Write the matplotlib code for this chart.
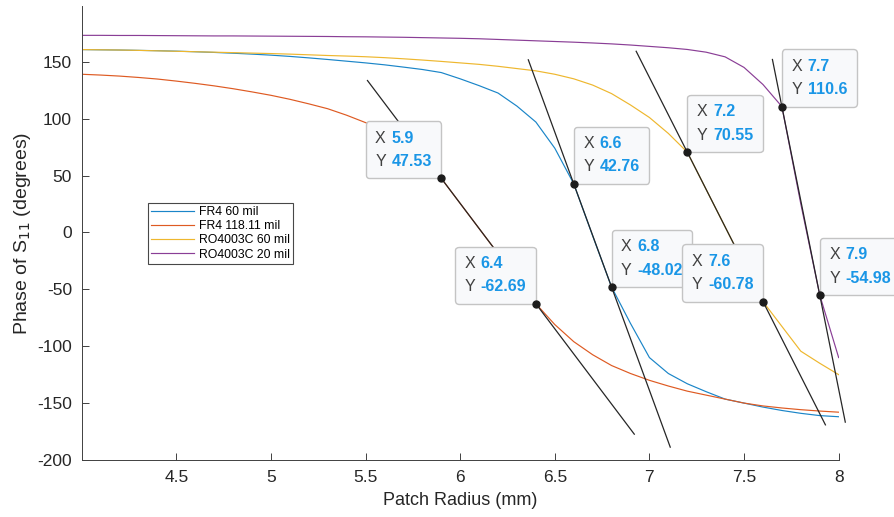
import numpy as np
import matplotlib.pyplot as plt
from matplotlib.offsetbox import TextArea, HPacker, VPacker, AnnotationBbox

plt.rcParams['font.family'] = ['Liberation Sans', 'DejaVu Sans']
plt.rcParams['axes.unicode_minus'] = False

# Patch radius sweep (mm)
radius = np.linspace(4.0, 8.0, 41)

fr4_60 = [160.7, 160.5, 160.3, 160.0, 159.7, 159.3, 158.8, 158.2, 157.5, 156.7,
          155.8, 154.7, 153.4, 152.0, 150.5, 149.0, 147.3, 145.3, 143.2, 140.5,
          135.0, 129.0, 122.5, 111.0, 97.0, 74.0, 42.76, -3.0, -48.02, -80.0,
          -110.0, -124.0, -133.0, -140.0, -146.5, -150.0, -153.5, -156.5, -159.0, -161.0,
          -162.0]
fr4_118 = [139.0, 138.3, 137.4, 136.2, 134.8, 133.0, 131.0, 128.8, 126.3, 123.5,
           120.5, 117.0, 113.0, 108.7, 103.0, 96.5, 88.5, 78.5, 65.0, 47.53,
           25.5, 3.4, -18.6, -40.6, -62.69, -81.0, -96.0, -107.5, -117.0, -124.0,
           -130.0, -135.0, -139.5, -143.0, -146.5, -150.0, -152.5, -154.3, -155.8, -157.0,
           -158.0]
ro_60 = [160.7, 160.5, 160.3, 160.0, 159.6, 159.2, 158.8, 158.4, 158.0, 157.6,
         157.2, 156.7, 156.1, 155.5, 155.0, 154.4, 153.6, 152.6, 151.5, 150.3,
         149.0, 147.7, 146.0, 144.0, 142.0, 139.0, 135.0, 129.5, 122.0, 112.0,
         101.0, 87.0, 70.55, 37.7, 4.9, -27.9, -60.78, -82.6, -104.4, -115.0,
         -125.0]
ro_20 = [173.2, 173.2, 173.1, 173.1, 173.0, 172.9, 172.8, 172.7, 172.7, 172.6,
         172.5, 172.4, 172.3, 172.2, 172.0, 171.9, 171.7, 171.5, 171.2, 170.9,
         170.6, 170.2, 169.6, 169.0, 168.4, 167.8, 167.2, 166.5, 165.7, 164.7,
         163.5, 162.3, 160.8, 158.4, 154.3, 145.0, 130.0, 110.6, 25.0, -54.98,
         -110.0]

series = [fr4_60, fr4_118, ro_60, ro_20]
labels = ['FR4 60 mil', 'FR4 118.11 mil', 'RO4003C 60 mil', 'RO4003C 20 mil']
colors = ['#1a85c8', '#de5a22', '#eeb72e', '#8a3e96']

# data tips: (x, y) and which side of the point the box sits on
tip_x = [5.9, 6.4, 6.6, 6.8, 7.2, 7.6, 7.7, 7.9]
tip_y = [47.53, -62.69, 42.76, -48.02, 70.55, -60.78, 110.6, -54.98]
tip_side = ['left', 'left', 'right', 'right', 'right', 'left', 'right', 'right']

# slope lines through pairs of tips, with the x span each one is drawn over
pairs = [(0, 1), (2, 3), (4, 5), (6, 7)]
spans = [(5.51, 6.92), (6.36, 7.11), (6.93, 7.93), (7.65, 8.035)]

fig = plt.figure(figsize=(8.94, 5.17), dpi=100)
ax = fig.add_axes([0.0914, 0.1103, 0.8467, 0.8781])

for y, lab, c in zip(series, labels, colors):
    ax.plot(radius, y, color=c, lw=0.85, label=lab, zorder=2)

for (i, j), (x0, x1) in zip(pairs, spans):
    k = (tip_y[j] - tip_y[i]) / (tip_x[j] - tip_x[i])
    xs = np.array([x0, x1])
    ax.plot(xs, tip_y[i] + k * (xs - tip_x[i]), color='#262626', lw=0.9,
            zorder=3, clip_on=False)

pad = 0.68  # box padding, in units of the 10 pt mutation scale
for x, y, side in zip(tip_x, tip_y, tip_side):
    rows = []
    for name, val in (('X', f'{x:g}'), ('Y', f'{y:g}')):
        rows.append(HPacker(children=[
            TextArea(name, textprops=dict(color='#404040', fontsize=11.5)),
            TextArea(val, textprops=dict(color='#1a96e6', fontsize=11.5,
                                         fontweight='bold'))],
            sep=4, pad=0, align='baseline'))
    box = VPacker(children=rows, sep=6, pad=0, align='left')
    dx = -pad * 10 if side == 'left' else pad * 10
    ab = AnnotationBbox(box, (x, y), xycoords='data',
                        xybox=(dx, pad * 10), boxcoords='offset points',
                        box_alignment=(1, 0) if side == 'left' else (0, 0),
                        frameon=True, zorder=4, annotation_clip=False,
                        bboxprops=dict(boxstyle=f'round,pad={pad},rounding_size=0.25',
                                       fc='#f8f9fb', ec='#c4c4c4', lw=1.0))
    ax.add_artist(ab)

ax.plot(tip_x, tip_y, 'o', color='#1c1c1c', ms=5, zorder=5, clip_on=False)

ax.set_xlim(4.0, 8.0)
ax.set_ylim(-200, 199)
ax.set_xticks([4.5, 5, 5.5, 6, 6.5, 7, 7.5, 8])
ax.set_xticklabels(['4.5', '5', '5.5', '6', '6.5', '7', '7.5', '8'])
ax.set_yticks(np.arange(-200, 151, 50))

for s in ('top', 'right'):
    ax.spines[s].set_visible(False)
for s in ('left', 'bottom'):
    ax.spines[s].set_color('#404040')
    ax.spines[s].set_linewidth(0.7)
ax.tick_params(direction='in', length=5, width=0.7, colors='#404040',
               labelcolor='#262626', labelsize=12.5, pad=7)

ax.set_xlabel('Patch Radius (mm)', fontsize=13, color='#262626', labelpad=5)
ax.set_ylabel('Phase of S$_{11}$ (degrees)', fontsize=14, color='#262626',
              labelpad=3)

leg = ax.legend(loc='upper left', bbox_to_anchor=(0.0876, 0.566),
                borderaxespad=0, fontsize=8.8, frameon=True, fancybox=False,
                handlelength=3.5, handletextpad=0.4, labelspacing=0.18,
                borderpad=0.25)
leg.get_frame().set_edgecolor('#1a1a1a')
leg.get_frame().set_linewidth(0.8)

fig.savefig('out.png', dpi=100)
